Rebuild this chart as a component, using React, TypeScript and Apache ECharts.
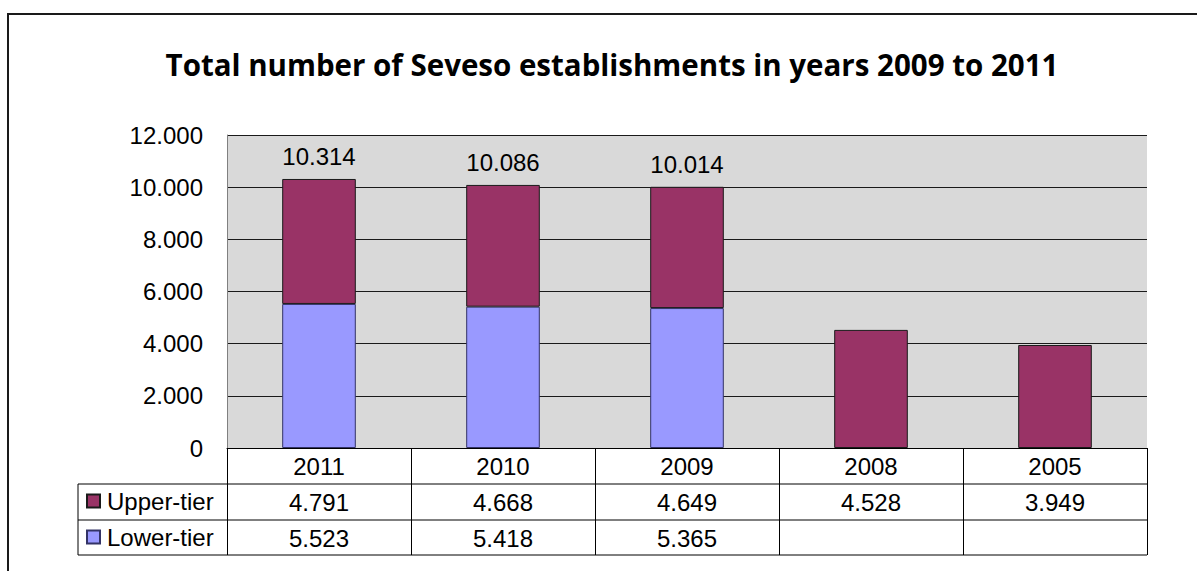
import React, { useEffect, useRef } from "react";
import * as echarts from "echarts";

const years = ["2011", "2010", "2009", "2008", "2005"];
const upperTier: (number | null)[] = [4791, 4668, 4649, 4528, 3949];
const lowerTier: (number | null)[] = [5523, 5418, 5365, null, null];
const yTicks = { min: 0, max: 12000, interval: 2000 };
const titleText = "Total number of Seveso establishments in years 2009 to 2011";

const fmt = (n: number) => String(n).replace(/\B(?=(\d{3})+(?!\d))/g, ".");

export default function App() {
  const ref = useRef<HTMLDivElement>(null);
  useEffect(() => {
    if (!ref.current) return;
    const chart = echarts.init(ref.current, null, { renderer: "svg" });
    const font = "'Liberation Sans', Arial, sans-serif";
    const fs = 24;
    const gridLeft = 227, gridRight = 1147, gridTop = 135, gridBottom = 448;
    const rowH = 36;
    const tableBottom = gridBottom + rowH * 3 - 1;
    const legendLeft = 78;
    chart.setOption({
      animation: false,
      backgroundColor: "#ffffff",
      title: {
        text: titleText,
        left: 612,
        textAlign: "center",
        top: 49,
        padding: 0,
        textStyle: { fontFamily: "'Open Sans', sans-serif", fontWeight: "bold", fontSize: 29.5, color: "#000" },
      },
      grid: {
        left: gridLeft,
        top: gridTop,
        width: gridRight - gridLeft,
        height: gridBottom - gridTop,
        show: true,
        backgroundColor: "#d9d9d9",
        borderWidth: 0,
      },
      legend: {
        orient: "vertical",
        left: 86,
        top: 489,
        padding: 0,
        itemWidth: 13,
        itemHeight: 13,
        itemGap: 12,
        icon: "rect",
        data: ["Upper-tier", "Lower-tier"],
        textStyle: { fontFamily: font, fontSize: fs, lineHeight: 24, color: "#000", padding: [0, 0, 0, 2] },
      },
      xAxis: {
        type: "category",
        data: years,
        axisLine: { show: true, lineStyle: { color: "#000", width: 1 } },
        axisTick: { show: true, length: rowH * 3 - 1, interval: 0, lineStyle: { color: "#000", width: 1 } },
        axisLabel: {
          interval: 0,
          margin: 0,
          formatter: (v: string, i: number) => {
            const u = upperTier[i];
            const l = lowerTier[i];
            return `{y|${v}}\n{y|${u == null ? " " : fmt(u)}}\n{y|${l == null ? " " : fmt(l)}}`;
          },
          rich: { y: { fontFamily: font, fontSize: fs, lineHeight: rowH, color: "#000" } },
        },
      },
      yAxis: {
        type: "value",
        min: yTicks.min,
        max: yTicks.max,
        interval: yTicks.interval,
        axisLine: { show: true, lineStyle: { color: "#808080", width: 1 } },
        axisTick: { show: false },
        axisLabel: {
          margin: 24,
          fontFamily: font,
          fontSize: fs,
          color: "#000",
          formatter: (v: number) => fmt(v),
        },
        splitLine: { show: true, lineStyle: { color: "#1a1a1a", width: 1 } },
      },
      series: [
        {
          name: "Lower-tier",
          type: "bar",
          stack: "total",
          barWidth: "40%",
          data: lowerTier,
          itemStyle: { color: "#9999ff", borderColor: "#333366", borderWidth: 1 },
        },
        {
          name: "Upper-tier",
          type: "bar",
          stack: "total",
          barWidth: "40%",
          data: upperTier,
          itemStyle: { color: "#993366", borderColor: "#1a1a1a", borderWidth: 1 },
          label: {
            show: true,
            position: "top",
            distance: 10,
            fontFamily: font,
            fontSize: fs,
            color: "#000",
            formatter: (p: any) => {
              const l = lowerTier[p.dataIndex];
              const u = upperTier[p.dataIndex];
              if (l == null || u == null) return "";
              return fmt(l + u);
            },
          },
        },
      ],
      graphic: [
        {
          type: "rect",
          shape: { x: 8, y: 14, width: 1300, height: 700 },
          style: { fill: "none", stroke: "#1a1a1a", lineWidth: 2 },
          silent: true,
        },
        ...[gridBottom + rowH, gridBottom + rowH * 2, tableBottom].map((y) => ({
          type: "line",
          shape: { x1: legendLeft, y1: y, x2: gridRight, y2: y },
          style: { stroke: "#000", lineWidth: 1 },
          silent: true,
        })),
        {
          type: "line",
          shape: { x1: legendLeft, y1: gridBottom + rowH, x2: legendLeft, y2: tableBottom },
          style: { stroke: "#000", lineWidth: 1 },
          silent: true,
        },
      ],
    });
    return () => chart.dispose();
  }, []);
  return <div ref={ref} style={{ position: "absolute", left: 0, top: 0, width: 1197, height: 571 }} />;
}
